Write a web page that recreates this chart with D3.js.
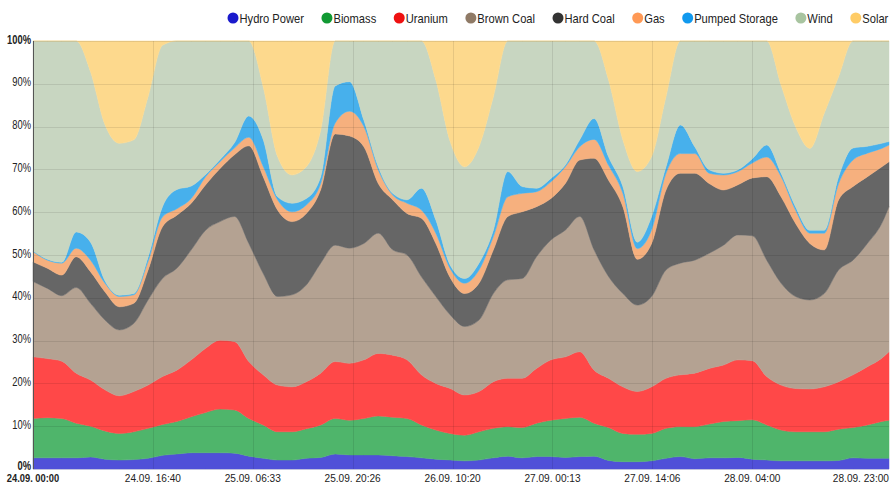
<!DOCTYPE html>
<html><head><meta charset="utf-8">
<script src="https://cdn.jsdelivr.net/npm/d3@7"></script>
<style>
body{margin:0;background:#fff}
svg{display:block}
text{font-family:"Liberation Sans",Arial,Helvetica,sans-serif}
</style>
</head><body>
<svg id="chart" width="893" height="485"></svg>
<script>
// ---- DATA (shares in %, 2-hour steps) ----
const hours = [0,2,4,6,8,10,12,14,16,18,20,22,24,26,28,30,32,34,36,38,40,42,44,46,48,50,52,54,56,58,60,62,64,66,68,70,72,74,76,78,80,82,84,86,88,90,92,94,96,98,100,102,104,106,108,110,112,114,116,118,119];

const seriesNames = ["Hydro Power","Biomass","Uranium","Brown Coal","Hard Coal","Gas","Pumped Storage","Wind","Solar"];

const hydro = [2.6,2.6,2.6,2.6,2.8,2.3,2.1,2.2,2.5,3.2, 3.5,3.8,3.8,3.8,3.7,3.0,2.5,2.1,2.1,2.5, 2.7,3.5,3.3,3.3,3.3,3.1,2.9,2.6,2.3,2.1, 1.9,2.1,2.6,3.0,2.6,2.9,2.9,2.7,2.9,3.0, 2.0,1.7,1.7,1.9,2.5,2.9,2.4,2.6,2.6,2.7, 2.3,2.1,1.9,1.9,1.9,1.9,2.0,2.6,2.5,2.5,2.5];
const biomass = [9.2,9.4,9.2,8.1,7.2,6.6,6.2,6.5,7.0,7.2, 7.6,8.4,9.4,10.2,10.1,8.8,7.8,6.6,6.6,6.9, 7.6,8.3,8.1,8.5,9.1,9.0,8.9,7.7,6.8,6.2, 6.0,6.6,6.9,6.9,7.1,7.8,8.5,9.1,9.2,7.7, 7.7,6.6,6.4,6.4,7.0,7.0,7.5,7.9,8.5,8.6, 9.2,8.2,7.2,6.8,6.8,6.8,7.3,7.1,7.8,8.6,8.9];
const uranium = [14.4,13.8,13.4,11.7,10.8,9.6,8.8,9.4,10.1,11.2, 12.0,13.3,15.0,16.1,16.0,13.3,11.7,10.9,10.5,11.0, 12.1,13.3,13.3,13.7,14.6,14.5,13.7,11.7,10.9,10.5, 9.4,9.4,10.9,11.3,11.5,12.8,14.1,14.4,15.3,12.4, 11.5,10.9,10.0,10.9,11.7,12.1,12.5,13.0,13.2,14.2, 13.8,11.3,10.5,10.1,10.0,10.5,11.1,12.3,13.6,14.8,16.0];
const brownCoal = [17.6,16.4,15.3,20.0,17.9,16.3,15.4,15.9,19.9,22.9, 23.8,25.7,27.6,27.7,29.2,27.6,23.7,20.7,21.5,22.6, 25.7,27.2,26.9,27.2,28.1,24.6,24.5,22.9,20.3,17.2, 16.0,16.7,20.6,23.0,23.3,26.1,28.0,29.6,31.6,28.1, 23.8,21.8,20.2,21.1,25.3,26.1,26.4,26.9,28.0,29.2, 29.2,27.2,23.8,21.5,20.8,21.8,26.1,26.8,28.8,31.5,33.9];
const hardCoal = [4.6,4.7,4.8,7.2,7.4,6.6,5.4,4.7,7.0,12.1, 12.4,10.9,10.6,12.4,14.4,22.8,22.6,20.2,17.1,16.7, 17.2,26.0,26.2,22.6,11.6,11.7,9.7,13.7,12.4,8.7, 7.7,8.6,10.2,14.8,15.6,11.7,9.7,10.9,13.2,21.4, 22.5,20.3,10.7,12.4,18.7,21.0,20.3,16.3,12.9,11.7, 13.5,19.5,20.2,17.1,13.2,10.2,16.4,17.2,15.6,13.2,10.5];
const gas = [2.4,1.9,2.8,2.0,2.7,2.0,2.4,2.0,2.0,2.3, 1.5,1.1,1.9,1.6,1.6,2.0,2.4,2.4,2.3,2.0, 1.4,2.5,5.8,4.7,3.2,1.1,2.4,1.9,2.4,2.1, 2.4,3.1,3.1,4.6,4.3,3.5,3.9,3.9,3.1,4.4, 3.5,3.1,2.5,3.2,3.9,4.6,4.6,2.4,3.5,3.1, 3.5,4.6,4.7,3.1,2.4,3.9,3.8,6.2,5.5,4.3,3.9];
const pumpedStorage = [0.2,0.2,0.2,3.8,4.2,0.6,0.3,0.3,1.0,2.4, 4.5,2.9,0.5,0.5,1.2,5.0,6.3,0.7,2.0,1.5, 1.6,8.7,6.9,1.5,0.7,0.4,0.8,5.1,3.1,0.8, 1.1,1.6,1.5,5.9,1.6,0.8,0.8,0.4,1.6,4.9, 2.0,1.6,1.5,3.1,1.5,6.7,1.6,0.8,0.4,0.4, 1.0,2.8,0.8,0.8,0.7,0.7,1.6,2.8,1.6,1.2,0.8];
const wind = [49.0,51.0,51.7,44.6,39.8,36.5,35.5,35.9,37.5,37.7, 34.7,33.9,31.2,27.7,23.8,17.5,12.3,9.4,6.6,7.4, 10.9,10.5,9.5,18.5,29.4,35.6,37.1,34.4,32.7,28.9, 26.1,27.2,31.2,30.5,34.0,34.4,32.1,29.0,23.1,18.1, 18.0,10.9,16.5,14.0,16.4,19.6,24.7,30.1,30.9,30.1, 27.5,24.3,20.6,18.7,19.1,27.3,23.4,25.0,24.6,23.9,23.5];
const solar = [0,0,0,0,7.2,19.5,23.9,23.1,13.0,1.0, 0,0,0,0,0,0,10.7,27.0,31.3,29.4, 20.8,0,0,0,0,0,0,0,9.1,23.5, 29.4,24.7,13.0,0,0,0,0,0,0,0, 9.0,23.1,30.5,27.0,13.0,0,0,0,0,0, 0,0,10.3,20.0,25.1,16.9,8.3,0,0,0,0];

const xTickLabels = ["24.09. 00:00","24.09. 16:40","25.09. 06:33","25.09. 20:26","26.09. 10:20","27.09. 00:13","27.09. 14:06","28.09. 04:00","28.09. 23:00"];

const fillColors = ["#5050d8","#4fb56b","#ff4848","#b4a292","#666666","#f6b07e","#47b0ec","#c8d6c1","#fdd98d"];
const legendColors = ["#1a1acc","#119933","#ee1111","#8f7a66","#333333","#ff9955","#1199ee","#a8c4a0","#ffcc66"];

// ---- BUILD ----
const valueLists = [hydro,biomass,uranium,brownCoal,hardCoal,gas,pumpedStorage,wind,solar];
const table = hours.map((h,i)=>{const o={h}; seriesNames.forEach((n,j)=>o[n]=valueLists[j][i]); return o;});

const svg = d3.select("#chart");
const L=33, R=889, T=41, B=469;
const x = d3.scaleLinear().domain([hours[0], hours[hours.length-1]]).range([L,R]);
const y = d3.scaleLinear().domain([0,1]).range([B,T]);

const layers = d3.stack().keys(seriesNames).offset(d3.stackOffsetExpand)(table);
const area = d3.area()
  .x(d=>x(d.data.h)).y0(d=>y(d[0])).y1(d=>y(d[1]))
  .curve(d3.curveMonotoneX);

svg.append("g").selectAll("path").data(layers).join("path")
  .attr("d",area)
  .attr("fill",(d,i)=>fillColors[i])
  .attr("stroke",(d,i)=>fillColors[i])
  .attr("stroke-width",0.5);

// tick positions parsed from the labels
function labelHours(s){
  const m = s.match(/(\d+)\.(\d+)\.\s+(\d+):(\d+)/);
  return (+m[1]-24)*24 + (+m[3]) + (+m[4])/60;
}
const xTicks = xTickLabels.map(s=>({label:s, h:labelHours(s)}));

// gridlines (on top, faint)
const grid = svg.append("g");
grid.selectAll("line.h").data(y.ticks(10)).join("line")
  .attr("x1",L).attr("x2",R)
  .attr("y1",d=>Math.round(y(d))+0.5).attr("y2",d=>Math.round(y(d))+0.5)
  .attr("stroke","#000").attr("stroke-opacity",0.09);
grid.selectAll("line.v").data(xTicks.slice(1,-1)).join("line")
  .attr("x1",d=>Math.round(x(d.h))+0.5).attr("x2",d=>Math.round(x(d.h))+0.5)
  .attr("y1",T).attr("y2",B)
  .attr("stroke","#000").attr("stroke-opacity",0.09);

// left axis line
svg.append("line").attr("x1",L+0.5).attr("x2",L+0.5).attr("y1",T).attr("y2",B)
  .attr("stroke","#555").attr("stroke-width",1);

function scaledText(parent, tx, ty, txt, opts){
  const g = parent.append("g").attr("transform",`translate(${tx},${ty}) scale(${opts.sx},1)`);
  return g.append("text").attr("x",0).attr("y",0)
    .attr("text-anchor",opts.anchor||"start")
    .attr("font-size",opts.size||12)
    .attr("font-weight",opts.bold?"bold":"normal")
    .attr("fill",opts.fill||"#222")
    .text(txt);
}

// y labels
const fmt = d3.format(".0%");
const yAx = svg.append("g");
y.ticks(10).forEach(v=>{
  const bold = (v===0||v===1);
  const dy = v===0 ? 0.5 : 2.5;
  scaledText(yAx, L-2, y(v)+dy, fmt(v), {sx:0.78, anchor:"end", size:12, bold});
});

// x labels
const xAx = svg.append("g");
xTicks.forEach((t,i)=>{
  const last = i===xTicks.length-1;
  const first = i===0;
  scaledText(xAx, last? R : x(t.h), 482.3, t.label,
    {sx: first?0.85:0.92, anchor: last?"end":"middle", size:11, bold:first});
});

// legend
const leg = svg.append("g");
let cx = 233;
const ly = 18;
seriesNames.forEach((n,i)=>{
  leg.append("circle").attr("cx",cx).attr("cy",ly).attr("r",5.5).attr("fill",legendColors[i]);
  const t = scaledText(leg, cx+6.5, ly+4.5, n, {sx:0.93, size:12, fill:"#222"});
  const w = t.node().getComputedTextLength()*0.93;
  cx = cx + 6.5 + w + 23;
});
</script>
</body></html>
